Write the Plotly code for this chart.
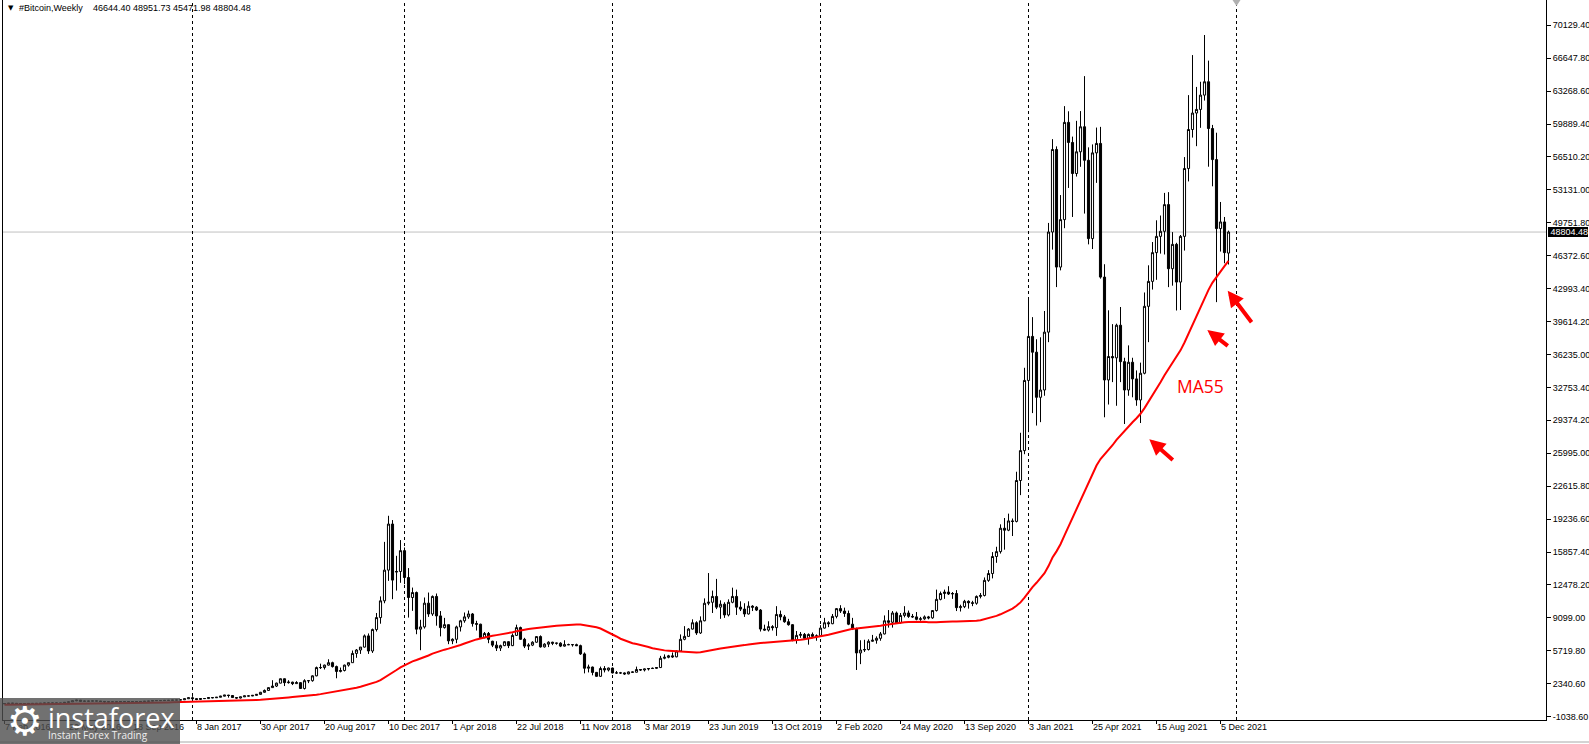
import pandas as pd
import plotly.graph_objects as go

# ---------------- data ----------------
symbol_title = "#Bitcoin,Weekly"
last_ohlc_text = "46644.40 48951.73 45471.98 48804.48"
first_week = "2016-02-07"          # Sunday label of the first visible weekly bar
ma_period = 55
last_price = 48804.48

# weekly closes before the first visible bar (needed to warm up the MA55)
warmup_closes_2015 = [218, 225, 235, 244, 255, 275, 285, 262, 247, 253,
                      236, 222, 226, 232, 241, 236, 240, 237, 223, 233,
                      245, 250, 270, 293, 274, 289, 281, 265, 261, 231,
                      226, 230, 241, 231, 235, 238, 246, 262, 284, 325,
                      384, 334, 326, 362, 389, 434, 454, 422, 431, 448,
                      388, 382, 378, 376]

# weekly bars (open, high, low, close)
bars_2016 = [
    (376, 407, 368, 404), (404, 443, 400, 438), (438, 440, 415, 433), (433, 440, 400, 406),
    (406, 420, 403, 411), (411, 418, 405, 410), (410, 420, 407, 416), (416, 420, 410, 418),
    (418, 424, 415, 421), (421, 431, 419, 429), (429, 462, 427, 458), (458, 468, 441, 452),
    (452, 464, 437, 459), (459, 462, 445, 457), (457, 460, 436, 439), (439, 535, 437, 526),
    (526, 588, 517, 575), (575, 698, 570, 690), (690, 780, 640, 757), (757, 768, 555, 630),
    (630, 705, 620, 660), (660, 688, 610, 650), (650, 680, 642, 678), (678, 680, 650, 660),
    (660, 661, 620, 624), (624, 628, 480, 590), (590, 600, 565, 570), (570, 585, 565, 581),
    (581, 590, 570, 570), (570, 612, 566, 610), (610, 630, 600, 606), (606, 612, 600, 610),
    (610, 612, 590, 602), (602, 615, 598, 613), (613, 620, 605, 617), (617, 645, 615, 640),
    (640, 660, 630, 655), (655, 730, 650, 700), (700, 745, 680, 710), (710, 745, 690, 705),
    (705, 755, 700, 730), (730, 752, 725, 735), (735, 775, 725, 765), (765, 775, 750, 770),
    (770, 795, 765, 790), (790, 900, 785, 895), (895, 1000, 880, 998),
]
bars_2017 = [
    (998, 1160, 880, 910), (910, 925, 750, 820), (820, 925, 815, 920), (920, 930, 880, 915),
    (915, 1030, 910, 1020), (1020, 1060, 940, 1000), (1000, 1060, 980, 1050), (1050, 1200, 1040, 1160),
    (1160, 1290, 1140, 1270), (1270, 1300, 1010, 1230), (1230, 1260, 1000, 1020), (1020, 1060, 900, 970),
    (970, 1100, 930, 1090), (1090, 1210, 1075, 1190), (1190, 1220, 1160, 1180), (1180, 1250, 1170, 1245),
    (1245, 1350, 1240, 1345), (1345, 1600, 1330, 1560), (1560, 1850, 1520, 1750), (1750, 2050, 1720, 2040),
    (2040, 2800, 2040, 2200), (2200, 2550, 2100, 2500), (2500, 2980, 2480, 2950), (2950, 2980, 2200, 2550),
    (2550, 2800, 2450, 2600), (2600, 2650, 2300, 2450), (2450, 2700, 2450, 2550), (2550, 2600, 1900, 1950),
    (1950, 2900, 1850, 2750), (2750, 2800, 2500, 2750), (2750, 3300, 2650, 3250), (3250, 4200, 3200, 4100),
    (4100, 4500, 3950, 4100), (4100, 4400, 3900, 4350), (4350, 4950, 4300, 4600), (4600, 4700, 4100, 4200),
    (4200, 4300, 3000, 3700), (3700, 4100, 3600, 3800), (3800, 4400, 3700, 4350), (4350, 4600, 4200, 4600),
    (4600, 5850, 4600, 5550), (5550, 6000, 5100, 5900), (5900, 6200, 5500, 6200), (6200, 7500, 6150, 7350),
    (7350, 7600, 5500, 5800), (5800, 8100, 5600, 8000), (8000, 9700, 7800, 9230), (9230, 11400, 8600, 10950),
    (10950, 17000, 10700, 14100), (14100, 19680, 13000, 18830), (18830, 19240, 11120, 13075),
    (13900, 15570, 12000, 13960), (13960, 17186, 12800, 16100),
]
bars_2018 = [
    (16100, 16426, 12660, 13340), (13340, 14310, 9230, 11290), (11290, 12310, 9920, 11800),
    (11800, 11900, 7520, 8040), (8040, 9000, 5880, 8270), (8270, 11290, 8100, 10710),
    (10710, 11800, 9300, 9600), (9600, 11500, 9400, 11400), (11400, 11700, 8400, 9400),
    (9400, 9900, 7300, 8200), (8200, 9200, 8100, 8500), (8500, 8500, 6500, 6840),
    (6840, 7100, 6500, 7000), (7000, 8400, 6600, 8270), (8270, 9000, 7800, 8900),
    (8900, 9750, 8700, 9300), (9300, 9950, 9100, 9600), (9600, 9700, 8300, 8610),
    (8610, 8900, 7900, 8550), (8550, 8600, 7100, 7170), (7170, 7750, 7100, 7600),
    (7600, 7750, 6600, 7000), (6800, 6850, 6200, 6400), (6400, 6800, 5800, 6100),
    (6100, 6450, 5800, 6350), (6350, 6800, 6300, 6750), (6750, 6800, 6100, 6350),
    (6350, 7600, 6300, 7400), (7400, 8500, 7350, 8200), (8200, 8300, 6950, 7000),
    (7000, 7150, 6100, 6300), (6300, 6600, 5900, 6400), (6400, 6800, 6300, 6700),
    (6700, 7300, 6650, 7280), (7280, 7400, 6150, 6220), (6220, 6600, 6150, 6500),
    (6500, 6800, 6200, 6700), (6700, 6750, 6400, 6600), (6600, 6650, 6450, 6600),
    (6600, 6700, 6200, 6300), (6300, 6900, 6250, 6450), (6450, 6550, 6400, 6450),
    (6450, 6500, 6250, 6450), (6450, 6550, 6300, 6350), (6350, 6450, 5400, 5500),
    (5500, 5650, 3500, 4030), (4030, 4400, 3600, 4150), (4150, 4200, 3300, 3600),
    (3600, 3650, 3150, 3200), (3200, 4200, 3150, 4000), (4000, 4250, 3600, 3850),
    (3850, 4100, 3700, 4050),
]
bars_2019 = [
    (4050, 4100, 3500, 3550), (3550, 3750, 3450, 3550), (3550, 3650, 3450, 3550),
    (3550, 3600, 3350, 3450), (3450, 3700, 3400, 3650), (3650, 3700, 3550, 3620),
    (3620, 4200, 3600, 3900), (3900, 3950, 3750, 3850), (3850, 3980, 3700, 3950),
    (3950, 4050, 3800, 4000), (4000, 4100, 3950, 4020), (4020, 4150, 3950, 4100),
    (4100, 5300, 4050, 5050), (5050, 5450, 4950, 5150), (5150, 5400, 5050, 5300),
    (5300, 5650, 5100, 5200), (5200, 5850, 5150, 5800), (5800, 7500, 5700, 7000),
    (7000, 8350, 6900, 7300), (7300, 8150, 7250, 8050), (8050, 9050, 8000, 8700),
    (8700, 8850, 7450, 7650), (7650, 9350, 7550, 8900), (8900, 11200, 8850, 10700),
    (10700, 13800, 10500, 10800), (10800, 12000, 9700, 11400), (11400, 13200, 10100, 10300),
    (10300, 11000, 9100, 10600), (10600, 10800, 9200, 9500), (9500, 11100, 9350, 10800),
    (10800, 12300, 10700, 11400), (11400, 12100, 9500, 10300), (10300, 10900, 9900, 10100),
    (10100, 10700, 9300, 9600), (9600, 10900, 9550, 10400), (10400, 10500, 9900, 10300),
    (10300, 10400, 9900, 10000), (10000, 10100, 7800, 8050), (8050, 8500, 7900, 7950),
    (7950, 8850, 7800, 8300), (8300, 8450, 7900, 8200), (8200, 10400, 7350, 9550),
    (9550, 9950, 8950, 9300), (9300, 9500, 8700, 8800), (8800, 9100, 8400, 8500),
    (8500, 8550, 6800, 6900), (6900, 7850, 6550, 7400), (7400, 7750, 7150, 7500),
    (7500, 7650, 7050, 7100), (7100, 7600, 6450, 7500), (7500, 7700, 7100, 7300),
    (7300, 7500, 6850, 7350),
]
bars_2020 = [
    (7350, 8450, 7300, 8150), (8150, 9200, 8100, 8700), (8700, 8850, 8250, 8600),
    (8600, 9600, 8550, 9350), (9350, 10200, 9150, 10150), (10150, 10500, 9700, 9900),
    (9900, 10250, 9300, 9650), (9650, 9950, 8450, 8550), (8550, 9200, 7950, 8050),
    (8050, 8200, 3850, 5600), (5600, 6900, 4450, 5900), (5900, 6950, 5700, 5950),
    (5950, 7000, 5850, 6800), (6800, 7450, 6750, 6900), (6900, 7300, 6550, 7100),
    (7100, 7750, 6850, 7550), (7550, 9450, 7500, 8900), (8900, 10000, 8200, 8750),
    (8750, 9900, 8200, 9700), (9700, 9850, 8650, 8700), (8700, 9700, 8600, 9450),
    (9450, 10400, 9250, 9700), (9700, 9950, 9200, 9350), (9350, 9600, 9200, 9300),
    (9300, 9800, 8950, 9050), (9050, 9300, 8900, 9100), (9100, 9450, 9000, 9300),
    (9300, 9400, 9050, 9200), (9200, 10000, 9100, 9950), (9950, 12100, 9850, 11100),
    (11100, 11900, 11000, 11700), (11700, 12100, 11150, 11850), (11850, 12450, 11550, 11650),
    (11650, 11850, 11150, 11700), (11700, 12050, 9900, 10250), (10250, 10550, 9850, 10350),
    (10350, 11050, 10200, 10900), (10900, 11000, 10150, 10750), (10750, 10950, 10400, 10700),
    (10700, 11500, 10550, 11400), (11400, 11750, 11200, 11500), (11500, 13350, 11400, 13050),
    (13050, 14100, 12900, 13750), (13750, 15950, 13250, 15500), (15500, 16500, 14850, 16000),
    (16000, 18800, 15800, 18400), (18400, 19450, 16200, 18200), (18200, 19900, 18100, 19150),
    (19150, 19400, 17600, 19100), (19100, 24200, 19000, 23300), (23300, 28200, 21800, 26370),
    (26370, 34870, 26000, 33570),
]
bars_2021 = [
    (33570, 41960, 28260, 38090), (38090, 40070, 30220, 36470), (36470, 37800, 28940, 31840),
    (31840, 38000, 29290, 32590), (32590, 40700, 32000, 38530), (38530, 49740, 37500, 48808),
    (48808, 58340, 47000, 57280), (57280, 57600, 43155, 45210), (45210, 52600, 44870, 50080),
    (50080, 61730, 49200, 60060), (60060, 61200, 53330, 58000), (58000, 58600, 50350, 54810),
    (54810, 60220, 54500, 57040), (57040, 61220, 55500, 59610), (59610, 64810, 50700, 56170),
    (56170, 57500, 47540, 48130), (48130, 57800, 47060, 56930), (56930, 59530, 53850, 57900),
    (57900, 59600, 44020, 44180), (44180, 45500, 29790, 33620), (33620, 40770, 31100, 36030),
    (36030, 39350, 33400, 35890), (35890, 39400, 30970, 39240), (39240, 41110, 33400, 35500),
    (35500, 35900, 29100, 32590), (32590, 37170, 32000, 35440), (35440, 35900, 31840, 33730),
    (33730, 34600, 30970, 31570), (31570, 35400, 29200, 34310), (34310, 42600, 34200, 41180),
    (41180, 45390, 37500, 43740), (43740, 47780, 42900, 46690), (46690, 50010, 43900, 48360),
    (48360, 50500, 46590, 48880), (48880, 52820, 46500, 51620), (51620, 52900, 43150, 45040),
    (45040, 48800, 43300, 47540), (47540, 47700, 40750, 43670), (43670, 48500, 40800, 48360),
    (48360, 56500, 46900, 55330), (55330, 62860, 54000, 59330), (59330, 66970, 58500, 61020),
    (61020, 63700, 57620, 61390), (61390, 64230, 59500, 62860), (62860, 69030, 62300, 64230),
    (64230, 66400, 55510, 59430), (59430, 59800, 53500, 56240), (56240, 59000, 41610, 49160),
    (49160, 51890, 46800, 49840), (49840, 50350, 45600, 46690),
    (46644.40, 48951.73, 45471.98, 48804.48),
]

# axis labels as printed on the chart
y_tick_labels = ["70129.40", "66647.80", "63268.60", "59889.40", "56510.20", "53131.00",
                 "49751.80", "46372.60", "42993.40", "39614.20", "36235.00", "32753.40",
                 "29374.20", "25995.00", "22615.80", "19236.60", "15857.40", "12478.20",
                 "9099.00", "5719.80", "2340.60", "-1038.60"]
y_tick_anchor_label = 49751.80   # 7th label from the top
y_tick_step = 3379.2
x_tick_labels = ["7 Feb 2016", "29 May 2016", "18 Sep 2016", "8 Jan 2017", "30 Apr 2017",
                 "20 Aug 2017", "10 Dec 2017", "1 Apr 2018", "22 Jul 2018", "11 Nov 2018",
                 "3 Mar 2019", "23 Jun 2019", "13 Oct 2019", "2 Feb 2020", "24 May 2020",
                 "13 Sep 2020", "3 Jan 2021", "25 Apr 2021", "15 Aug 2021", "5 Dec 2021"]
year_separators = ["2017-01-01", "2018-01-07", "2019-01-06", "2020-01-05", "2021-01-03", "2022-01-02"]

# annotation marks drawn on the chart (arrow tip in bar units / price, tail offset in px)
arrow_tip_bar = [286.2, 300.7, 305.8]
arrow_tip_price = [27530, 38748, 42783]
arrow_tail_px = [(25, 22), (22, 17), (25, 33)]
ma_label_bar, ma_label_price = 299.1, 32969

# ---------------- derived ----------------
bars = bars_2016 + bars_2017 + bars_2018 + bars_2019 + bars_2020 + bars_2021
opens = [b[0] for b in bars]
highs = [b[1] for b in bars]
lows = [b[2] for b in bars]
closes = [b[3] for b in bars]
idx = list(range(len(bars)))
start = pd.Timestamp(first_week)


def bar_of(date_str, fmt=None):
    d = pd.to_datetime(date_str, format=fmt)
    return (d - start).days / 7.0


all_closes = pd.Series(warmup_closes_2015 + closes, dtype=float)
ma = all_closes.rolling(ma_period).mean().iloc[len(warmup_closes_2015):].tolist()

y_tick_vals = [y_tick_anchor_label + (6 - k) * y_tick_step for k in range(len(y_tick_labels))]

# ---------------- figure ----------------
W, H = 1589, 744
ML, MR, MT, MB = 3, 43, 0, 24
PW, PH = W - ML - MR, H - MT - MB


def px_x(px):
    return (px - ML) / PW


def px_y(py):
    return (H - MB - py) / PH


FONT = "Liberation Sans, Arial, sans-serif"

fig = go.Figure()
fig.add_trace(go.Candlestick(
    x=idx, open=opens, high=highs, low=lows, close=closes,
    increasing=dict(line=dict(color="black", width=1), fillcolor="white"),
    decreasing=dict(line=dict(color="black", width=1), fillcolor="black"),
    whiskerwidth=0, showlegend=False, hoverinfo="skip", name=symbol_title,
))
fig.add_trace(go.Scatter(
    x=idx, y=ma, mode="lines", line=dict(color="#ff0000", width=2),
    showlegend=False, hoverinfo="skip", name="MA55",
))

shapes = []
# current price line
shapes.append(dict(type="line", xref="paper", x0=0, x1=1, yref="y", y0=last_price, y1=last_price,
                   line=dict(color="#c0c0c0", width=1), layer="below"))
# year separators
for d in year_separators:
    b = bar_of(d)
    shapes.append(dict(type="line", xref="x", x0=b, x1=b, yref="paper", y0=0, y1=1,
                       line=dict(color="black", width=1, dash="3px,3px"), layer="below"))
# chart shift marker (small grey triangle at top)
shapes.append(dict(type="path", xref="x", yref="paper", xsizemode="pixel", ysizemode="pixel",
                   xanchor=bar_of(year_separators[-1]), yanchor=1,
                   path="M-4,0 L4,0 L0,-6 Z", fillcolor="#b0b0b0", line=dict(width=0)))
# window bottom line
shapes.append(dict(type="line", xref="paper", x0=px_x(0), x1=px_x(W), yref="paper",
                   y0=px_y(742), y1=px_y(742), line=dict(color="#a8a8a8", width=1)))

ann = []
# x axis date labels (left aligned at the bar, MT4 style)
for s in x_tick_labels:
    ann.append(dict(x=bar_of(s, "%d %b %Y"), y=0, xref="x", yref="paper", text=s, showarrow=False,
                    xanchor="left", yanchor="top", xshift=-2, yshift=0,
                    font=dict(family=FONT, size=9, color="black")))
# watermark box (drawn after the labels so it dims them)
ann.append(dict(x=px_x(0), y=px_y(744), xref="paper", yref="paper", text=" ", showarrow=False,
                xanchor="left", yanchor="bottom", width=180, height=46, borderpad=0, borderwidth=0,
                bgcolor="rgba(78,78,78,0.80)"))
ann.append(dict(x=px_x(25), y=px_y(721), xref="paper", yref="paper", text="\u2699", showarrow=False,
                xanchor="center", yanchor="middle",
                font=dict(family="DejaVu Sans", size=40, color="white")))
ann.append(dict(x=px_x(46), y=px_y(717), xref="paper", yref="paper", text="instaforex", showarrow=False,
                xanchor="left", yanchor="middle",
                font=dict(family="Open Sans", size=27, color="white")))
ann.append(dict(x=px_x(46), y=px_y(735), xref="paper", yref="paper", text="Instant Forex Trading",
                showarrow=False, xanchor="left", yanchor="middle",
                font=dict(family="Open Sans", size=10, color="#eeeeee")))
# title
ann.append(dict(x=px_x(11), y=px_y(8.5), xref="paper", yref="paper", text="\u25bc", showarrow=False,
                xanchor="center", yanchor="middle", font=dict(family="DejaVu Sans", size=7, color="black")))
ann.append(dict(x=px_x(17), y=px_y(8.5), xref="paper", yref="paper", text=symbol_title, showarrow=False,
                xanchor="left", yanchor="middle", font=dict(family=FONT, size=9, color="black")))
ann.append(dict(x=px_x(91), y=px_y(8.5), xref="paper", yref="paper", text=last_ohlc_text, showarrow=False,
                xanchor="left", yanchor="middle", font=dict(family=FONT, size=9, color="black")))
# current price box on the price scale
ann.append(dict(x=1, y=last_price, xref="paper", yref="y", text="\u00a0" + f"{last_price:.2f}",
                showarrow=False, xanchor="left", yanchor="middle", xshift=2, borderpad=0, borderwidth=0,
                bgcolor="black", font=dict(family=FONT, size=9, color="white")))
# MA55 label
ann.append(dict(x=ma_label_bar, y=ma_label_price, xref="x", yref="y", text="MA55", showarrow=False,
                xanchor="center", yanchor="middle", font=dict(family="Open Sans", size=17.5, color="#ff0000")))
# red arrows
for bx, py, (dx, dy) in zip(arrow_tip_bar, arrow_tip_price, arrow_tail_px):
    ann.append(dict(x=bx, y=py, xref="x", yref="y", ax=dx, ay=dy, text="", showarrow=True,
                    arrowhead=2, arrowsize=0.8, arrowwidth=4, arrowcolor="#ff0000", standoff=0))

fig.update_layout(
    width=W, height=H, margin=dict(l=ML, r=MR, t=MT, b=MB, pad=0),
    paper_bgcolor="white", plot_bgcolor="white", showlegend=False,
    shapes=shapes, annotations=ann, boxgap=0.25,
    xaxis=dict(range=[-0.375, 385.375], showgrid=False, zeroline=False, showline=True, linecolor="black",
               linewidth=1, mirror=True, ticks="outside", ticklen=3, tickcolor="black",
               tickvals=[bar_of(s, "%d %b %Y") for s in x_tick_labels], showticklabels=False,
               rangeslider=dict(visible=False), fixedrange=True),
    yaxis=dict(range=[-1284, 72623], side="right", showgrid=False, zeroline=False, showline=True,
               linecolor="black", linewidth=1, mirror=True, ticks="outside", ticklen=4, tickcolor="black",
               tickvals=y_tick_vals, ticktext=y_tick_labels,
               tickfont=dict(family=FONT, size=9, color="black"), fixedrange=True),
)

fig.write_html("out.html", config={"displayModeBar": False},
               post_script="document.body.style.margin='0';document.body.style.overflow='hidden';")
